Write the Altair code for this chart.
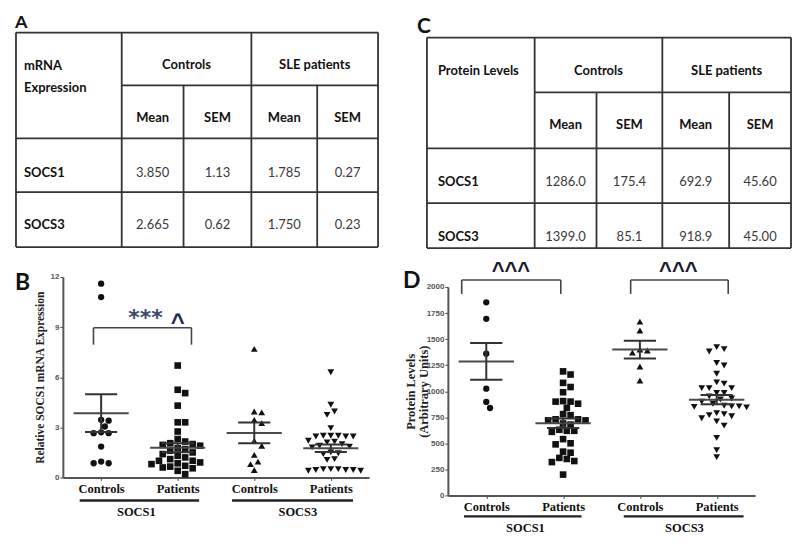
import altair as alt
import numpy as np
import pandas as pd

# ---------------- table values (panels A and C) ----------------
genes = ["SOCS1", "SOCS3"]
table_groups = ["Controls", "SLE patients"]
table_stats = ["Mean", "SEM"]

mrna_controls_mean = [3.850, 2.665]
mrna_controls_sem = [1.13, 0.62]
mrna_patients_mean = [1.785, 1.750]
mrna_patients_sem = [0.27, 0.23]
mrna_decimals = [3, 2, 3, 2]

protein_controls_mean = [1286.0, 1399.0]
protein_controls_sem = [175.4, 85.1]
protein_patients_mean = [692.9, 918.9]
protein_patients_sem = [45.60, 45.00]
protein_decimals = [1, 1, 1, 2]

# ---------------- scatter values (panels B and D) ----------------
x_categories = ["Controls", "Patients", "Controls", "Patients"]
gene_groups = ["SOCS1", "SOCS3"]
markers = ["circle", "square", "triangle-up", "triangle-down"]
marker_sizes = [40, 44, 46, 46]

mrna_socs1_controls = [11.6, 10.8, 3.45, 3.4, 3.05, 2.7, 2.65, 2.65, 1.85, 0.95, 0.85, 0.85]
mrna_socs1_patients = [6.7, 5.25, 5.05, 4.3, 3.3, 3.3, 2.75, 2.3, 2.15, 2.05, 2.0, 1.95, 1.9,
                       1.75, 1.7, 1.6, 1.5, 1.4, 1.3, 1.2, 1.1, 1.0, 1.0, 0.9, 0.85, 0.8,
                       0.7, 0.65, 0.6, 0.55, 0.4, 0.2]
mrna_socs3_controls = [7.7, 3.95, 3.9, 3.45, 3.25, 2.2, 1.9, 1.35, 0.95, 0.8, 0.45]
mrna_socs3_patients = [6.3, 4.35, 3.95, 3.75, 2.95, 2.5, 2.5, 2.5, 2.45, 2.45, 2.45, 2.2,
                       2.15, 2.1, 2.0, 1.9, 1.85, 1.8, 1.5, 1.45, 1.4, 1.1, 1.05, 0.5,
                       0.5, 0.45, 0.45, 0.4, 0.45, 0.5, 0.4]

protein_socs1_controls = [1853, 1694, 1359, 1024, 897, 839]
protein_socs1_patients = [1190, 1160, 1080, 1040, 990, 905, 900, 880, 840, 900, 780, 770,
                          730, 730, 720, 720, 690, 680, 630, 620, 620, 610, 540, 500, 490,
                          420, 410, 360, 350, 330, 320, 200]
protein_socs3_controls = [1668, 1582, 1390, 1370, 1400, 1237, 1103]
protein_socs3_patients = [1423, 1404, 1381, 1270, 1247, 1167, 1084, 1072, 1030, 1030, 1030,
                          983, 983, 950, 930, 920, 900, 880, 860, 855, 855, 850, 845, 790,
                          780, 770, 760, 740, 711, 670, 552, 434, 367]

SANS = "Lato"
SERIF = "Liberation Serif"
INK = "#111111"
LINE = "#333333"


# ---------------- helpers ----------------
def table_panel(corner_lines, corner_y, col_w, row_h, text_y, cols, decimals, pad,
                x_range, y_top, width, height, letter, letter_x, letter_y, letter_size):
    E = [0.0] + [float(v) for v in np.cumsum(col_w)]
    R = [0.0] + [float(v) for v in np.cumsum(row_h)]
    segs = pd.DataFrame([
        (E[0], E[5], R[0], R[0]), (E[1], E[5], R[1], R[1]), (E[0], E[5], R[2], R[2]),
        (E[0], E[5], R[3], R[3]), (E[0], E[5], R[4], R[4]),
        (E[0], E[0], R[0], R[4]), (E[5], E[5], R[0], R[4]), (E[1], E[1], R[0], R[4]),
        (E[3], E[3], R[0], R[4]), (E[2], E[2], R[1], R[4]), (E[4], E[4], R[1], R[4]),
    ], columns=["x1", "x2", "y1", "y2"])
    left = [(pad, y, t) for t, y in zip(corner_lines, corner_y)]
    left += [(pad, text_y[2 + i], g) for i, g in enumerate(genes)]
    head = [((E[1] + E[3]) / 2, text_y[0], table_groups[0]),
            ((E[3] + E[5]) / 2, text_y[0], table_groups[1])]
    head += [((E[c] + E[c + 1]) / 2, text_y[1], table_stats[(c - 1) % 2]) for c in range(1, 5)]
    vals = []
    for i in range(len(genes)):
        for c in range(4):
            vals.append(((E[c + 1] + E[c + 2]) / 2, text_y[2 + i],
                         f"{cols[c][i]:.{decimals[c]}f}"))
    cdf = ["x", "y", "t"]
    xs = alt.Scale(domain=[0, E[-1]], range=[float(x_range[0]), float(x_range[1])], nice=False, zero=False)
    ys = alt.Scale(domain=[0, R[-1]], range=[float(y_top), float(y_top + R[-1])], nice=False, zero=False)

    def X(f):
        return alt.X(f, type="quantitative", scale=xs, axis=None)

    def Y(f):
        return alt.Y(f, type="quantitative", scale=ys, axis=None)

    rules = alt.Chart(segs).mark_rule(color=LINE, strokeWidth=1.8).encode(
        x=X("x1"), x2="x2", y=Y("y1"), y2="y2")
    t_left = alt.Chart(pd.DataFrame(left, columns=cdf)).mark_text(
        font=SANS, fontSize=13, fontWeight="bold", align="left", baseline="middle", color=INK
    ).encode(x=X("x"), y=Y("y"), text="t:N")
    t_head = alt.Chart(pd.DataFrame(head, columns=cdf)).mark_text(
        font=SANS, fontSize=13, fontWeight="bold", align="center", baseline="middle", color=INK
    ).encode(x=X("x"), y=Y("y"), text="t:N")
    t_vals = alt.Chart(pd.DataFrame(vals, columns=cdf)).mark_text(
        font=SANS, fontSize=13, align="center", baseline="middle", color="#3a3a3a"
    ).encode(x=X("x"), y=Y("y"), text="t:N")
    t_letter = alt.Chart(pd.DataFrame({"t": [letter]})).mark_text(
        font=SANS, fontSize=letter_size, fontWeight="bold", align="left",
        baseline="alphabetic", color=INK
    ).encode(x=alt.value(letter_x), y=alt.value(letter_y), text="t:N")
    return alt.layer(rules, t_left, t_head, t_vals, t_letter).properties(width=width, height=height)


def swarm(vals, px_y, diam):
    order = sorted(range(len(vals)), key=lambda i: -vals[i])
    steps = [0.0]
    for j in range(1, 40):
        steps += [j * diam / 2, -j * diam / 2]
    placed, offs = [], [0.0] * len(vals)
    for i in order:
        y = vals[i] * px_y
        for s in steps:
            if all((s - px) ** 2 + (y - py) ** 2 >= (diam * 0.92) ** 2 for px, py in placed):
                offs[i] = s
                placed.append((s, y))
                break
    return offs


def dot_panel(series, means, sems, y_scale, y_values, y_title, title_x, title_size, width, height,
              px_y, diam, brackets, notes, group_spans, group_label_x, line_y, label_y,
              letter, letter_x, letter_y):
    px_x = width / 4.0
    rows = []
    for k, vals in enumerate(series):
        offs = swarm(vals, px_y, diam)
        for v, o in zip(vals, offs):
            rows.append({"x": k + 1 + o / px_x, "value": v,
                         "marker": markers[k], "size": marker_sizes[k]})
    pts = pd.DataFrame(rows)
    summ = pd.DataFrame({"pos": [1, 2, 3, 4], "mean": means, "sem": sems})

    xs = alt.Scale(domain=[0.5, 4.5], nice=False, zero=False)
    label_expr = "[" + ",".join(f"'{c}'" for c in x_categories) + "][datum.value - 1]"
    xaxis = alt.Axis(values=[1, 2, 3, 4], labelExpr=label_expr, title=None, grid=False,
                     tickSize=3, tickColor="#444", domainColor="#555", domainWidth=2,
                     labelFont=SERIF, labelFontWeight="bold", labelFontSize=12.5,
                     labelColor=INK, labelPadding=2, labelFlush=False, labelOverlap=False)
    yaxis = alt.Axis(values=y_values, format="d", title=y_title, titleFont=SERIF,
                     titleFontWeight="bold", titleFontSize=title_size, titleColor="#222",
                     titleX=title_x, titleBaseline="middle", titleLineHeight=13, grid=False,
                     tickSize=3, tickColor="#444",
                     labelFont="Liberation Sans", labelFontWeight="bold", labelFontSize=8,
                     labelColor="#555", labelPadding=1, domainColor="#555", domainWidth=2,
                     labelOverlap=False)

    def X(f):
        return alt.X(f, type="quantitative", scale=xs, axis=xaxis)

    def Y(f):
        return alt.Y(f, type="quantitative", scale=y_scale, axis=yaxis)

    points = alt.Chart(pts).mark_point(filled=True, opacity=1, color=INK).encode(
        x=X("x"), y=Y("value"),
        shape=alt.Shape("marker:N", scale=None), size=alt.Size("size:Q", scale=None))
    sbase = alt.Chart(summ).transform_calculate(
        lo="datum.mean - datum.sem", hi="datum.mean + datum.sem",
        xa="datum.pos - 0.36", xb="datum.pos + 0.36",
        ca="datum.pos - 0.21", cb="datum.pos + 0.21")
    mean_rule = sbase.mark_rule(color="#4a4a4a", strokeWidth=2).encode(x=X("xa"), x2="xb", y=Y("mean"))
    hi_rule = sbase.mark_rule(color="#333", strokeWidth=2).encode(x=X("ca"), x2="cb", y=Y("hi:Q"))
    lo_rule = sbase.mark_rule(color="#333", strokeWidth=2).encode(x=X("ca"), x2="cb", y=Y("lo:Q"))
    stem = sbase.mark_rule(color="#333", strokeWidth=2).encode(x=X("pos"), y=Y("lo:Q"), y2="hi:Q")

    br = pd.DataFrame(brackets, columns=["x1", "x2", "y1", "y2"])
    br_rule = alt.Chart(br).mark_rule(color="#444", strokeWidth=1.6).encode(
        x=X("x1"), x2="x2", y=Y("y1"), y2="y2")
    layers = [points, mean_rule, hi_rule, lo_rule, stem, br_rule]
    for (nx, ny, txt, font, size, col) in notes:
        layers.append(alt.Chart(pd.DataFrame({"x": [nx], "y": [ny], "t": [txt]})).mark_text(
            font=font, fontWeight="bold", fontSize=size, align="center",
            baseline="alphabetic", color=col).encode(x=X("x"), y=Y("y"), text="t:N"))

    gl = pd.DataFrame({"a": [s[0] for s in group_spans], "b": [s[1] for s in group_spans],
                       "c": group_label_x, "g": gene_groups})
    layers.append(alt.Chart(gl).mark_rule(color="#222", strokeWidth=2.5).encode(
        x=X("a"), x2="b", y=alt.value(line_y)))
    layers.append(alt.Chart(gl).mark_text(font=SERIF, fontWeight="bold", fontSize=12.5,
                                          align="center", baseline="middle", color=INK).encode(
        x=X("c"), y=alt.value(label_y), text="g:N"))
    layers.append(alt.Chart(pd.DataFrame({"t": [letter]})).mark_text(
        font=SANS, fontWeight="bold", fontSize=23, align="left", baseline="alphabetic",
        color=INK).encode(x=alt.value(letter_x), y=alt.value(letter_y), text="t:N"))
    return alt.layer(*layers).properties(width=width, height=height)


# ---------------- panels ----------------
panel_a = table_panel(
    corner_lines=["mRNA", "Expression"], corner_y=[33, 56],
    col_w=[106, 62, 68, 66, 61], row_h=[53, 53, 54, 55], text_y=[32, 86, 141, 193],
    cols=[mrna_controls_mean, mrna_controls_sem, mrna_patients_mean, mrna_patients_sem],
    decimals=mrna_decimals, pad=8, x_range=[-47, 316], y_top=24, width=307, height=239,
    letter="A", letter_x=-48, letter_y=19, letter_size=18)

panel_c = table_panel(
    corner_lines=["Protein Levels"], corner_y=[33],
    col_w=[108, 62, 66, 67, 62], row_h=[55, 56, 55, 45], text_y=[33, 88, 145, 200],
    cols=[protein_controls_mean, protein_controls_sem, protein_patients_mean, protein_patients_sem],
    decimals=protein_decimals, pad=11, x_range=[-21, 344], y_top=29, width=308, height=240,
    letter="C", letter_x=-31, letter_y=24, letter_size=21)

panel_b = dot_panel(
    series=[mrna_socs1_controls, mrna_socs1_patients, mrna_socs3_controls, mrna_socs3_patients],
    means=[mrna_controls_mean[0], mrna_patients_mean[0], mrna_controls_mean[1], mrna_patients_mean[1]],
    sems=[mrna_controls_sem[0], mrna_patients_sem[0], mrna_controls_sem[1], mrna_patients_sem[1]],
    y_scale=alt.Scale(domain=[0, 12], nice=False, zero=True),
    y_values=[0, 3, 6, 9, 12], y_title="Relative SOCS1 mRNA Expression", title_x=-22,
    title_size=11.5, width=307, height=201, px_y=201 / 12.0, diam=7.5,
    brackets=[(0.90, 2.18, 8.96, 8.96), (0.90, 0.90, 7.95, 8.96), (2.18, 2.18, 7.95, 8.96)],
    notes=[(1.58, 9.1, "***", "DejaVu Sans", 22, "#3b4a6b"),
           (2.0, 8.85, "^", "Liberation Sans", 24, "#1f2a4a")],
    group_spans=[(0.72, 2.28), (2.71, 4.29)], group_label_x=[1.46, 3.57],
    line_y=224, label_y=236, letter="B", letter_x=-48, letter_y=13)

panel_d = dot_panel(
    series=[protein_socs1_controls, protein_socs1_patients, protein_socs3_controls, protein_socs3_patients],
    means=[protein_controls_mean[0], protein_patients_mean[0], protein_controls_mean[1], protein_patients_mean[1]],
    sems=[protein_controls_sem[0], protein_patients_sem[0], protein_controls_sem[1], protein_patients_sem[1]],
    y_scale=alt.Scale(domain=[0, 2000], range=[219, 10], nice=False, zero=True),
    y_values=list(range(0, 2001, 250)), y_title=["Protein Levels", "(Arbitrary Units)"],
    title_x=-37, title_size=12.5, width=308, height=219, px_y=209 / 2000.0, diam=7.5,
    brackets=[(0.68, 1.97, 2067, 2067), (0.68, 0.68, 1933, 2067), (1.97, 1.97, 1933, 2067),
              (2.88, 4.15, 2067, 2067), (2.88, 2.88, 1933, 2067), (4.15, 4.15, 1933, 2067)],
    notes=[(1.32, 2085, "^^^", "Liberation Sans", 22, "#1a1a2e"),
           (3.5, 2085, "^^^", "Liberation Sans", 22, "#1a1a2e")],
    group_spans=[(0.71, 2.24), (2.79, 4.35)], group_label_x=[1.51, 3.58],
    line_y=240, label_y=252, letter="D", letter_x=-45, letter_y=11)

chart = alt.concat(
    panel_a, panel_c, panel_b, panel_d, columns=2,
    spacing={"row": 29, "column": 79}, bounds="flush"
).properties(
    padding={"left": 7, "top": 0, "right": 0, "bottom": 0}
).configure_view(stroke=None)

chart.save("out.html", embed_options={"renderer": "svg", "actions": False})
